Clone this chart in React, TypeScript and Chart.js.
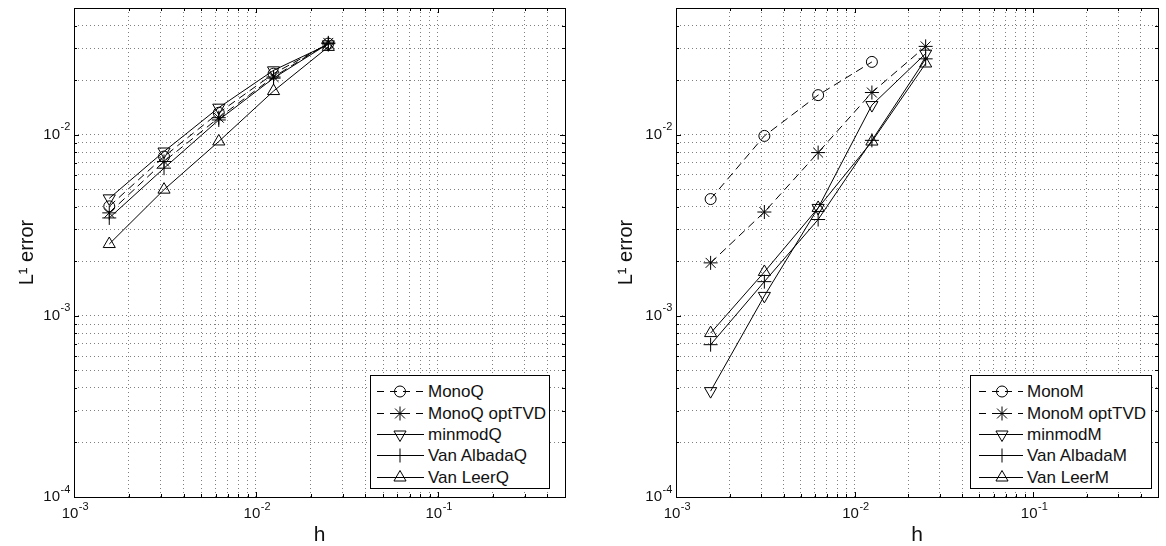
import React, { useEffect, useRef } from "react";
import { Chart, registerables } from "chart.js";

Chart.register(...registerables);

// ---------- data ----------
const H = [0.0015625, 0.003125, 0.00625, 0.0125, 0.025];

const LEFT_NAMES = ["MonoQ", "MonoQ optTVD", "minmodQ", "Van AlbadaQ", "Van LeerQ"];
const monoQ = [0.00402, 0.00757, 0.0132, 0.0217, 0.0318];
const monoQOptTVD = [0.0037, 0.00711, 0.0124, 0.0208, 0.0321];
const minmodQ = [0.00445, 0.00807, 0.01409, 0.02264, 0.0315];
const vanAlbadaQ = [0.00347, 0.00653, 0.01205, 0.0205, 0.0318];
const vanLeerQ = [0.00249, 0.00497, 0.00917, 0.0174, 0.0305];

const RIGHT_NAMES = ["MonoM", "MonoM optTVD", "minmodM", "Van AlbadaM", "Van LeerM"];
const monoM = [0.00441, 0.00984, 0.01652, 0.0252];
const monoMOptTVD = [0.00196, 0.00374, 0.00796, 0.01708, 0.0307];
const minmodM = [0.000384, 0.001288, 0.00394, 0.01456, 0.028];
const vanAlbadaM = [0.000693, 0.001544, 0.0034, 0.0093, 0.0262];
const vanLeerM = [0.000803, 0.001746, 0.00394, 0.00916, 0.0247];

const X_MIN = 1e-3;
const X_MAX = 0.5;
const Y_MIN = 1e-4;
const Y_MAX = 0.05;
const X_MAJOR = [1e-3, 1e-2, 1e-1];
const Y_MAJOR = [1e-4, 1e-3, 1e-2];
const MULTIPLIERS = [1, 2, 3, 4, 5, 6, 7, 8, 9];
const TICK_BASE = "10";

const X_TITLE = "h";
const Y_TITLE = "L\u00B9 error";

// ---------- styles ----------
const FONT = "'Liberation Sans', Arial, Helvetica, sans-serif";
const TICK_SIZE = 15;
const EXP_SIZE = 11;
const X_LABEL_OFFSET = -4;
const X_TICK_PAD = 8;
const Y_TICK_PAD = 14;

type Kind = "circle" | "star" | "down" | "cross" | "up";
const SERIES_STYLE: { kind: Kind; dashed: boolean }[] = [
  { kind: "circle", dashed: true },
  { kind: "star", dashed: true },
  { kind: "down", dashed: false },
  { kind: "cross", dashed: false },
  { kind: "up", dashed: false },
];

function buildTicks(majors: number[], max: number): number[] {
  const out: number[] = [];
  majors.forEach((m) => {
    MULTIPLIERS.forEach((k) => {
      const v = parseFloat((m * k).toPrecision(6));
      if (v <= max * 1.000001) out.push(v);
    });
  });
  return out;
}

const isIn = (v: number, arr: number[]) => arr.some((m) => Math.abs(m - v) / m < 1e-6);

function pointOpts(kind: Kind) {
  switch (kind) {
    case "circle":
      return { pointStyle: "circle", pointRadius: 5.5, pointRotation: 0 };
    case "star":
      return { pointStyle: "star", pointRadius: 7, pointRotation: 0 };
    case "down":
      return { pointStyle: "triangle", pointRadius: 7, pointRotation: 180 };
    case "cross":
      return { pointStyle: "cross", pointRadius: 7, pointRotation: 0 };
    default:
      return { pointStyle: "triangle", pointRadius: 7, pointRotation: 0 };
  }
}

const zeroPadding = (s: any) => {
  s.paddingTop = 0;
  s.paddingBottom = 0;
  s.paddingLeft = 0;
  s.paddingRight = 0;
};

const boxPlugin = {
  id: "matlabBox",
  afterDraw(chart: any) {
    const { ctx, chartArea } = chart;
    const { left, top, right, bottom } = chartArea;
    const xs = chart.scales.x;
    const ys = chart.scales.y;
    ctx.save();
    ctx.strokeStyle = "#000";
    ctx.lineWidth = 1;
    ctx.setLineDash([]);
    ctx.beginPath();
    xs.ticks.forEach((t: any) => {
      const px = Math.round(xs.getPixelForValue(t.value)) + 0.5;
      const len = isIn(t.value, X_MAJOR) ? 5 : 3;
      ctx.moveTo(px, bottom);
      ctx.lineTo(px, bottom - len);
      ctx.moveTo(px, top);
      ctx.lineTo(px, top + len);
    });
    ys.ticks.forEach((t: any) => {
      const py = Math.round(ys.getPixelForValue(t.value)) + 0.5;
      const len = isIn(t.value, Y_MAJOR) ? 5 : 3;
      ctx.moveTo(left, py);
      ctx.lineTo(left + len, py);
      ctx.moveTo(right, py);
      ctx.lineTo(right - len, py);
    });
    ctx.stroke();
    ctx.strokeRect(Math.round(left) + 0.5, Math.round(top) + 0.5, Math.round(right - left), Math.round(bottom - top));

    // exponents of the "10" tick labels
    ctx.fillStyle = "#111";
    ctx.font = `${TICK_SIZE}px ${FONT}`;
    const w10 = ctx.measureText(TICK_BASE).width;
    ctx.font = `${EXP_SIZE}px ${FONT}`;
    ctx.textAlign = "left";
    ctx.textBaseline = "middle";
    const lift = 7.5;
    X_MAJOR.forEach((m) => {
      const e = String(Math.round(Math.log10(m)));
      const px = xs.getPixelForValue(m) + X_LABEL_OFFSET + w10 / 2 + 0.5;
      const midY = xs.top + X_TICK_PAD + (TICK_SIZE * 1.2) / 2;
      ctx.fillText(e, px, midY - lift);
    });
    Y_MAJOR.forEach((m) => {
      const e = String(Math.round(Math.log10(m)));
      const px = ys.right - Y_TICK_PAD + 0.5;
      const midY = ys.getPixelForValue(m);
      ctx.fillText(e, px, midY - lift);
    });
    ctx.restore();
  },
};

type PanelProps = {
  names: string[];
  series: number[][];
  yAxisWidth: number;
  rightPad: number;
  titlePad: number;
};

function Panel({ names, series, yAxisWidth, rightPad, titlePad }: PanelProps) {
  const ref = useRef<HTMLCanvasElement | null>(null);
  useEffect(() => {
    if (!ref.current) return;
    const xTicks = buildTicks(X_MAJOR, X_MAX);
    const yTicks = buildTicks(Y_MAJOR, Y_MAX);
    const datasets = series.map((vals, i) => {
      const st = SERIES_STYLE[i];
      return {
        label: names[i],
        data: vals.map((v, j) => ({ x: H[j], y: v })),
        borderColor: "#000",
        borderWidth: 1,
        borderDash: st.dashed ? [8, 5] : [],
        backgroundColor: "rgba(0,0,0,0)",
        pointBackgroundColor: "rgba(0,0,0,0)",
        pointBorderColor: "#000",
        pointBorderWidth: 1,
        tension: 0,
        fill: false,
        ...pointOpts(st.kind),
      };
    });
    const chart = new Chart(ref.current, {
      type: "line",
      data: { datasets } as any,
      options: {
        animation: false,
        responsive: false,
        maintainAspectRatio: false,
        devicePixelRatio: 1,
        layout: { padding: { top: 7, right: rightPad, bottom: 0, left: 0 } },
        plugins: { legend: { display: false }, tooltip: { enabled: false } },
        scales: {
          x: {
            type: "logarithmic",
            min: X_MIN,
            max: X_MAX,
            afterBuildTicks: (s: any) => {
              s.ticks = xTicks.map((v) => ({ value: v }));
            },
            afterFit: (s: any) => {
              s.height = 49;
              zeroPadding(s);
            },
            grid: { color: "rgba(0,0,0,0.5)", lineWidth: 1, drawTicks: false, tickLength: 0 },
            border: { display: false, dash: [1, 3] },
            ticks: {
              autoSkip: false,
              maxRotation: 0,
              padding: X_TICK_PAD,
              labelOffset: X_LABEL_OFFSET,
              color: "#111",
              font: { family: FONT, size: TICK_SIZE, lineHeight: 1.2 },
              callback: (v: any) => (isIn(Number(v), X_MAJOR) ? TICK_BASE : ""),
            },
            title: {
              display: true,
              text: X_TITLE,
              color: "#111",
              font: { family: FONT, size: 21, lineHeight: 1 },
              padding: { top: 0, bottom: 0 },
            },
          },
          y: {
            type: "logarithmic",
            min: Y_MIN,
            max: Y_MAX,
            afterBuildTicks: (s: any) => {
              s.ticks = yTicks.map((v) => ({ value: v }));
            },
            afterFit: (s: any) => {
              s.width = yAxisWidth;
              zeroPadding(s);
            },
            grid: { color: "rgba(0,0,0,0.5)", lineWidth: 1, drawTicks: false, tickLength: 0 },
            border: { display: false, dash: [1, 3] },
            ticks: {
              autoSkip: false,
              padding: Y_TICK_PAD,
              color: "#111",
              font: { family: FONT, size: TICK_SIZE, lineHeight: 1.2 },
              callback: (v: any) => (isIn(Number(v), Y_MAJOR) ? TICK_BASE : ""),
            },
            title: {
              display: true,
              text: Y_TITLE,
              color: "#111",
              font: { family: FONT, size: 20, lineHeight: 1 },
              padding: { top: titlePad, bottom: 0 },
            },
          },
        },
      } as any,
      plugins: [boxPlugin],
    });
    return () => chart.destroy();
  }, []);
  return <canvas ref={ref} width={583} height={546} style={{ display: "block", width: 583, height: 546 }} />;
}

function MarkerSvg({ kind, cx, cy }: { kind: Kind; cx: number; cy: number }) {
  const r = 7;
  if (kind === "circle") return <circle cx={cx} cy={cy} r={5.5} fill="none" stroke="#000" strokeWidth={1} />;
  if (kind === "cross")
    return <path d={`M${cx - r},${cy}H${cx + r}M${cx},${cy - r}V${cy + r}`} stroke="#000" strokeWidth={1} fill="none" />;
  if (kind === "star") {
    const d = r * Math.SQRT1_2;
    return (
      <path
        d={`M${cx - r},${cy}H${cx + r}M${cx},${cy - r}V${cy + r}M${cx - d},${cy - d}L${cx + d},${cy + d}M${cx - d},${cy + d}L${cx + d},${cy - d}`}
        stroke="#000"
        strokeWidth={1}
        fill="none"
      />
    );
  }
  const w = r * Math.sin(Math.PI / 3);
  if (kind === "up")
    return <path d={`M${cx},${cy - r}L${cx + w},${cy + r / 2}L${cx - w},${cy + r / 2}Z`} stroke="#000" strokeWidth={1} fill="none" />;
  return <path d={`M${cx},${cy + r}L${cx + w},${cy - r / 2}L${cx - w},${cy - r / 2}Z`} stroke="#000" strokeWidth={1} fill="none" />;
}

function LegendBox({ names, left, width, x1, x2, cx, gap }: { names: string[]; left: number; width: number; x1: number; x2: number; cx: number; gap: number }) {
  return (
    <div
      style={{
        position: "absolute",
        left,
        top: 375,
        width,
        height: 114,
        boxSizing: "border-box",
        border: "1px solid #000",
        background: "#fff",
        paddingTop: 5,
        fontFamily: FONT,
      }}
    >
      {names.map((n, i) => (
        <div key={n} style={{ display: "flex", alignItems: "center", height: 21.4 }}>
          <svg width={54} height={21} style={{ flex: "none", display: "block" }}>
            <line
              x1={x1}
              x2={x2}
              y1={10.5}
              y2={10.5}
              stroke="#000"
              strokeWidth={1}
              strokeDasharray={SERIES_STYLE[i].dashed ? "7,6" : undefined}
            />
            <MarkerSvg kind={SERIES_STYLE[i].kind} cx={cx} cy={10.5} />
          </svg>
          <span style={{ marginLeft: gap, fontSize: 17, lineHeight: "21px", whiteSpace: "nowrap", color: "#111" }}>{n}</span>
        </div>
      ))}
    </div>
  );
}

export default function App() {
  return (
    <div style={{ position: "absolute", left: 0, top: 0, width: 1166, height: 546, background: "#fff", overflow: "hidden" }}>
      <div style={{ position: "absolute", left: 0, top: 0 }}>
        <Panel
          names={LEFT_NAMES}
          series={[monoQ, monoQOptTVD, minmodQ, vanAlbadaQ, vanLeerQ]}
          yAxisWidth={74}
          rightPad={18}
          titlePad={17}
        />
      </div>
      <div style={{ position: "absolute", left: 583, top: 0 }}>
        <Panel
          names={RIGHT_NAMES}
          series={[monoM, monoMOptTVD, minmodM, vanAlbadaM, vanLeerM]}
          yAxisWidth={93}
          rightPad={1}
          titlePad={33}
        />
      </div>
      <LegendBox names={LEFT_NAMES} left={370} width={180} x1={6} x2={53} cx={29} gap={3} />
      <LegendBox names={RIGHT_NAMES} left={970} width={182} x1={8} x2={52} cx={31} gap={2} />
    </div>
  );
}
